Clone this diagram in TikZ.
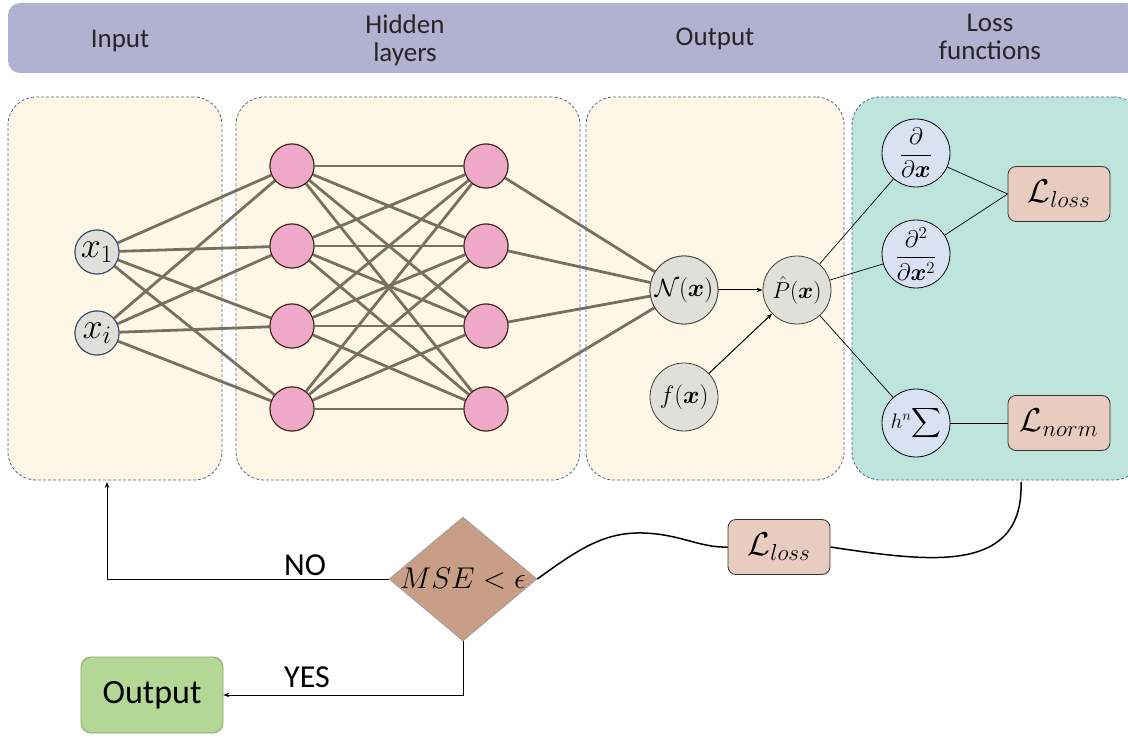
\RequirePackage{fix-cm}
\documentclass[tikz,border=0pt]{standalone}
\usepackage{amsmath}
\usepackage{fontspec}
\setmainfont{Carlito}
\usetikzlibrary{shapes.geometric,arrows.meta,calc}
\definecolor{hdr}{HTML}{B1B1D0}
\definecolor{cream}{HTML}{FFF7E6}
\definecolor{teal}{HTML}{BDE5DC}
\definecolor{dashc}{HTML}{4A6A9A}
\definecolor{graynode}{HTML}{E0E0DA}
\definecolor{pinknode}{HTML}{F0A8C8}
\definecolor{nnedge}{HTML}{77705F}
\definecolor{bluenode}{HTML}{D9E2F3}
\definecolor{lossbox}{HTML}{E8CCC0}
\definecolor{diafill}{HTML}{C89F86}
\definecolor{outfill}{HTML}{B3D795}
\definecolor{outdraw}{HTML}{7FA860}
\tikzset{
  panel/.style={draw=dashc, dash pattern=on 3pt off 2pt, line width=0.8pt, rounded corners=28pt, fill=cream},
  hdrtext/.style={font=\fontsize{27}{28}\selectfont, text=black!85, align=center},
  innode/.style={circle, draw=dashc!70!black, line width=1pt, fill=graynode, minimum size=44pt, inner sep=-8pt, font=\fontsize{36}{38}\selectfont},
  hnode/.style={circle, draw=black!70!brown, line width=1pt, fill=pinknode, minimum size=44pt, inner sep=0pt},
  onode/.style={circle, draw=black!75, line width=0.8pt, fill=graynode, minimum size=68pt, inner sep=-4pt, font=\fontsize{25}{27}\selectfont},
  lnode/.style={circle, draw=black, line width=0.8pt, fill=bluenode, minimum size=68pt, inner sep=-6pt, font=\fontsize{24}{26}\selectfont},
  lbox/.style={rectangle, rounded corners=8pt, draw=black!80, line width=0.8pt, fill=lossbox, minimum width=102pt, minimum height=55pt, inner sep=0pt, font=\fontsize{33}{35}\selectfont},
  nn/.style={draw=nnedge, line width=2.8pt},
  thin/.style={draw=black, line width=0.7pt},
  arr/.style={-{Stealth[length=6pt,width=4.5pt]}},
}
\begin{document}
\begin{tikzpicture}[x=1pt,y=-1pt]
\useasboundingbox (0,0) rectangle (1128,738);
% header
\node[rectangle, rounded corners=12pt, fill=hdr, minimum width=1130pt, minimum height=70pt, inner sep=0pt] (hdr) at (573,38) {};
\node[hdrtext] (t1) at (120,41) {Input};
\node[hdrtext] (t2) at (405,40) {Hidden\\layers};
\node[hdrtext] (t3) at (715,39) {Output};
\node[hdrtext] (t4) at (990,37) {Loss\\functions};
% panels
\node[panel, minimum width=214pt, minimum height=383pt] (pin) at (115,288.5) {};
\node[panel, minimum width=344pt, minimum height=383pt] (phid) at (408,288.5) {};
\node[panel, minimum width=258pt, minimum height=383pt] (pout) at (715,288.5) {};
\node[panel, fill=teal, minimum width=290pt, minimum height=383pt] (ploss) at (997,288.5) {};
% input nodes
\node[innode] (x1) at (97,252) {$x_1$};
\node[innode] (xi) at (97,333) {$x_i$};
% hidden nodes
\foreach \i/\y in {1/166,2/246,3/326,4/409}{
  \node[hnode] (a\i) at (292,\y) {};
  \node[hnode] (b\i) at (486,\y) {};
}
% output nodes
\node[onode] (N) at (684,290) {$\mathcal{N}(\boldsymbol{x})$};
\node[onode, font=\fontsize{23}{25}\selectfont] (P) at (797,290) {$\hat{P}(\boldsymbol{x})$};
\node[onode] (f) at (684,397) {$f(\boldsymbol{x})$};
% NN edges
\foreach \s in {x1,xi}{\foreach \i in {1,...,4}{\path[nn] (\s) -- (a\i);}}
\foreach \i in {1,...,4}{\foreach \j in {1,...,4}{\path[nn] (a\i) -- (b\j);}}
\foreach \j in {1,...,4}{\path[nn] (b\j) -- (N);}
% redraw nodes on top
\node[innode] at (x1) {$x_1$};
\node[innode] at (xi) {$x_i$};
\foreach \i in {1,...,4}{
  \node[hnode] at (a\i) {};
  \node[hnode] at (b\i) {};
}
\node[onode] at (N) {$\mathcal{N}(\boldsymbol{x})$};
\draw[thin, line width=1pt, arr] (N) -- (P);
\draw[thin, line width=1pt, arr] (f) -- (P);
% loss nodes
\node[lnode] (d1) at (916,153) {$\dfrac{\partial}{\partial \boldsymbol{x}}$};
\node[lnode] (d2) at (916,254) {$\dfrac{\partial^2}{\partial \boldsymbol{x}^2}$};
\node[lnode, font=\fontsize{21}{23}\selectfont] (hs) at (916,423) {$h^n\!\displaystyle\sum$};
\node[lbox] (L1) at (1059,194) {$\mathcal{L}_{loss}$};
\node[lbox] (L2) at (1059,423) {$\mathcal{L}_{norm}$};
\draw[thin] (P) -- (d1);
\draw[thin] (P) -- (d2);
\draw[thin] (P) -- (hs);
\draw[thin] (d1) -- (L1.west);
\draw[thin] (d2) -- (L1.west);
\draw[thin] (hs) -- (L2);
% bottom flow
\node[lbox] (Lb) at (779,547) {$\mathcal{L}_{loss}$};
\node[diamond, aspect=1.19, draw=black!40, line width=0.6pt, fill=diafill, minimum width=148pt, minimum height=124pt, inner sep=-3pt, font=\fontsize{30}{32}\selectfont] (dia) at (463,579) {$MSE<\epsilon$};
\node[rectangle, rounded corners=10pt, draw=outdraw, line width=0.8pt, fill=outfill, minimum width=142pt, minimum height=76pt, font=\fontsize{34}{36}\selectfont] (ob) at (152,695) {Output};
\coordinate (ls) at (1021,482);
\coordinate (pk) at (643,533);
\coordinate (nin) at (107,482);
\draw[black, line width=1.5pt] (ls) .. controls (1024,575) and (930,562) .. (Lb.east);
\draw[black, line width=1.5pt] (dia.east) .. controls (580,548) and (605,532) .. (pk) .. controls (680,534) and (700,548) .. (Lb.west);
\draw[black, line width=1pt, arr] (dia.west) -| (nin);
\draw[black, line width=1pt, arr] (dia.south) |- (ob.east);
\node[font=\fontsize{32}{34}\selectfont] (no) at (305,565) {NO};
\node[font=\fontsize{32}{34}\selectfont] (yes) at (307,677) {YES};
\end{tikzpicture}
\end{document}
